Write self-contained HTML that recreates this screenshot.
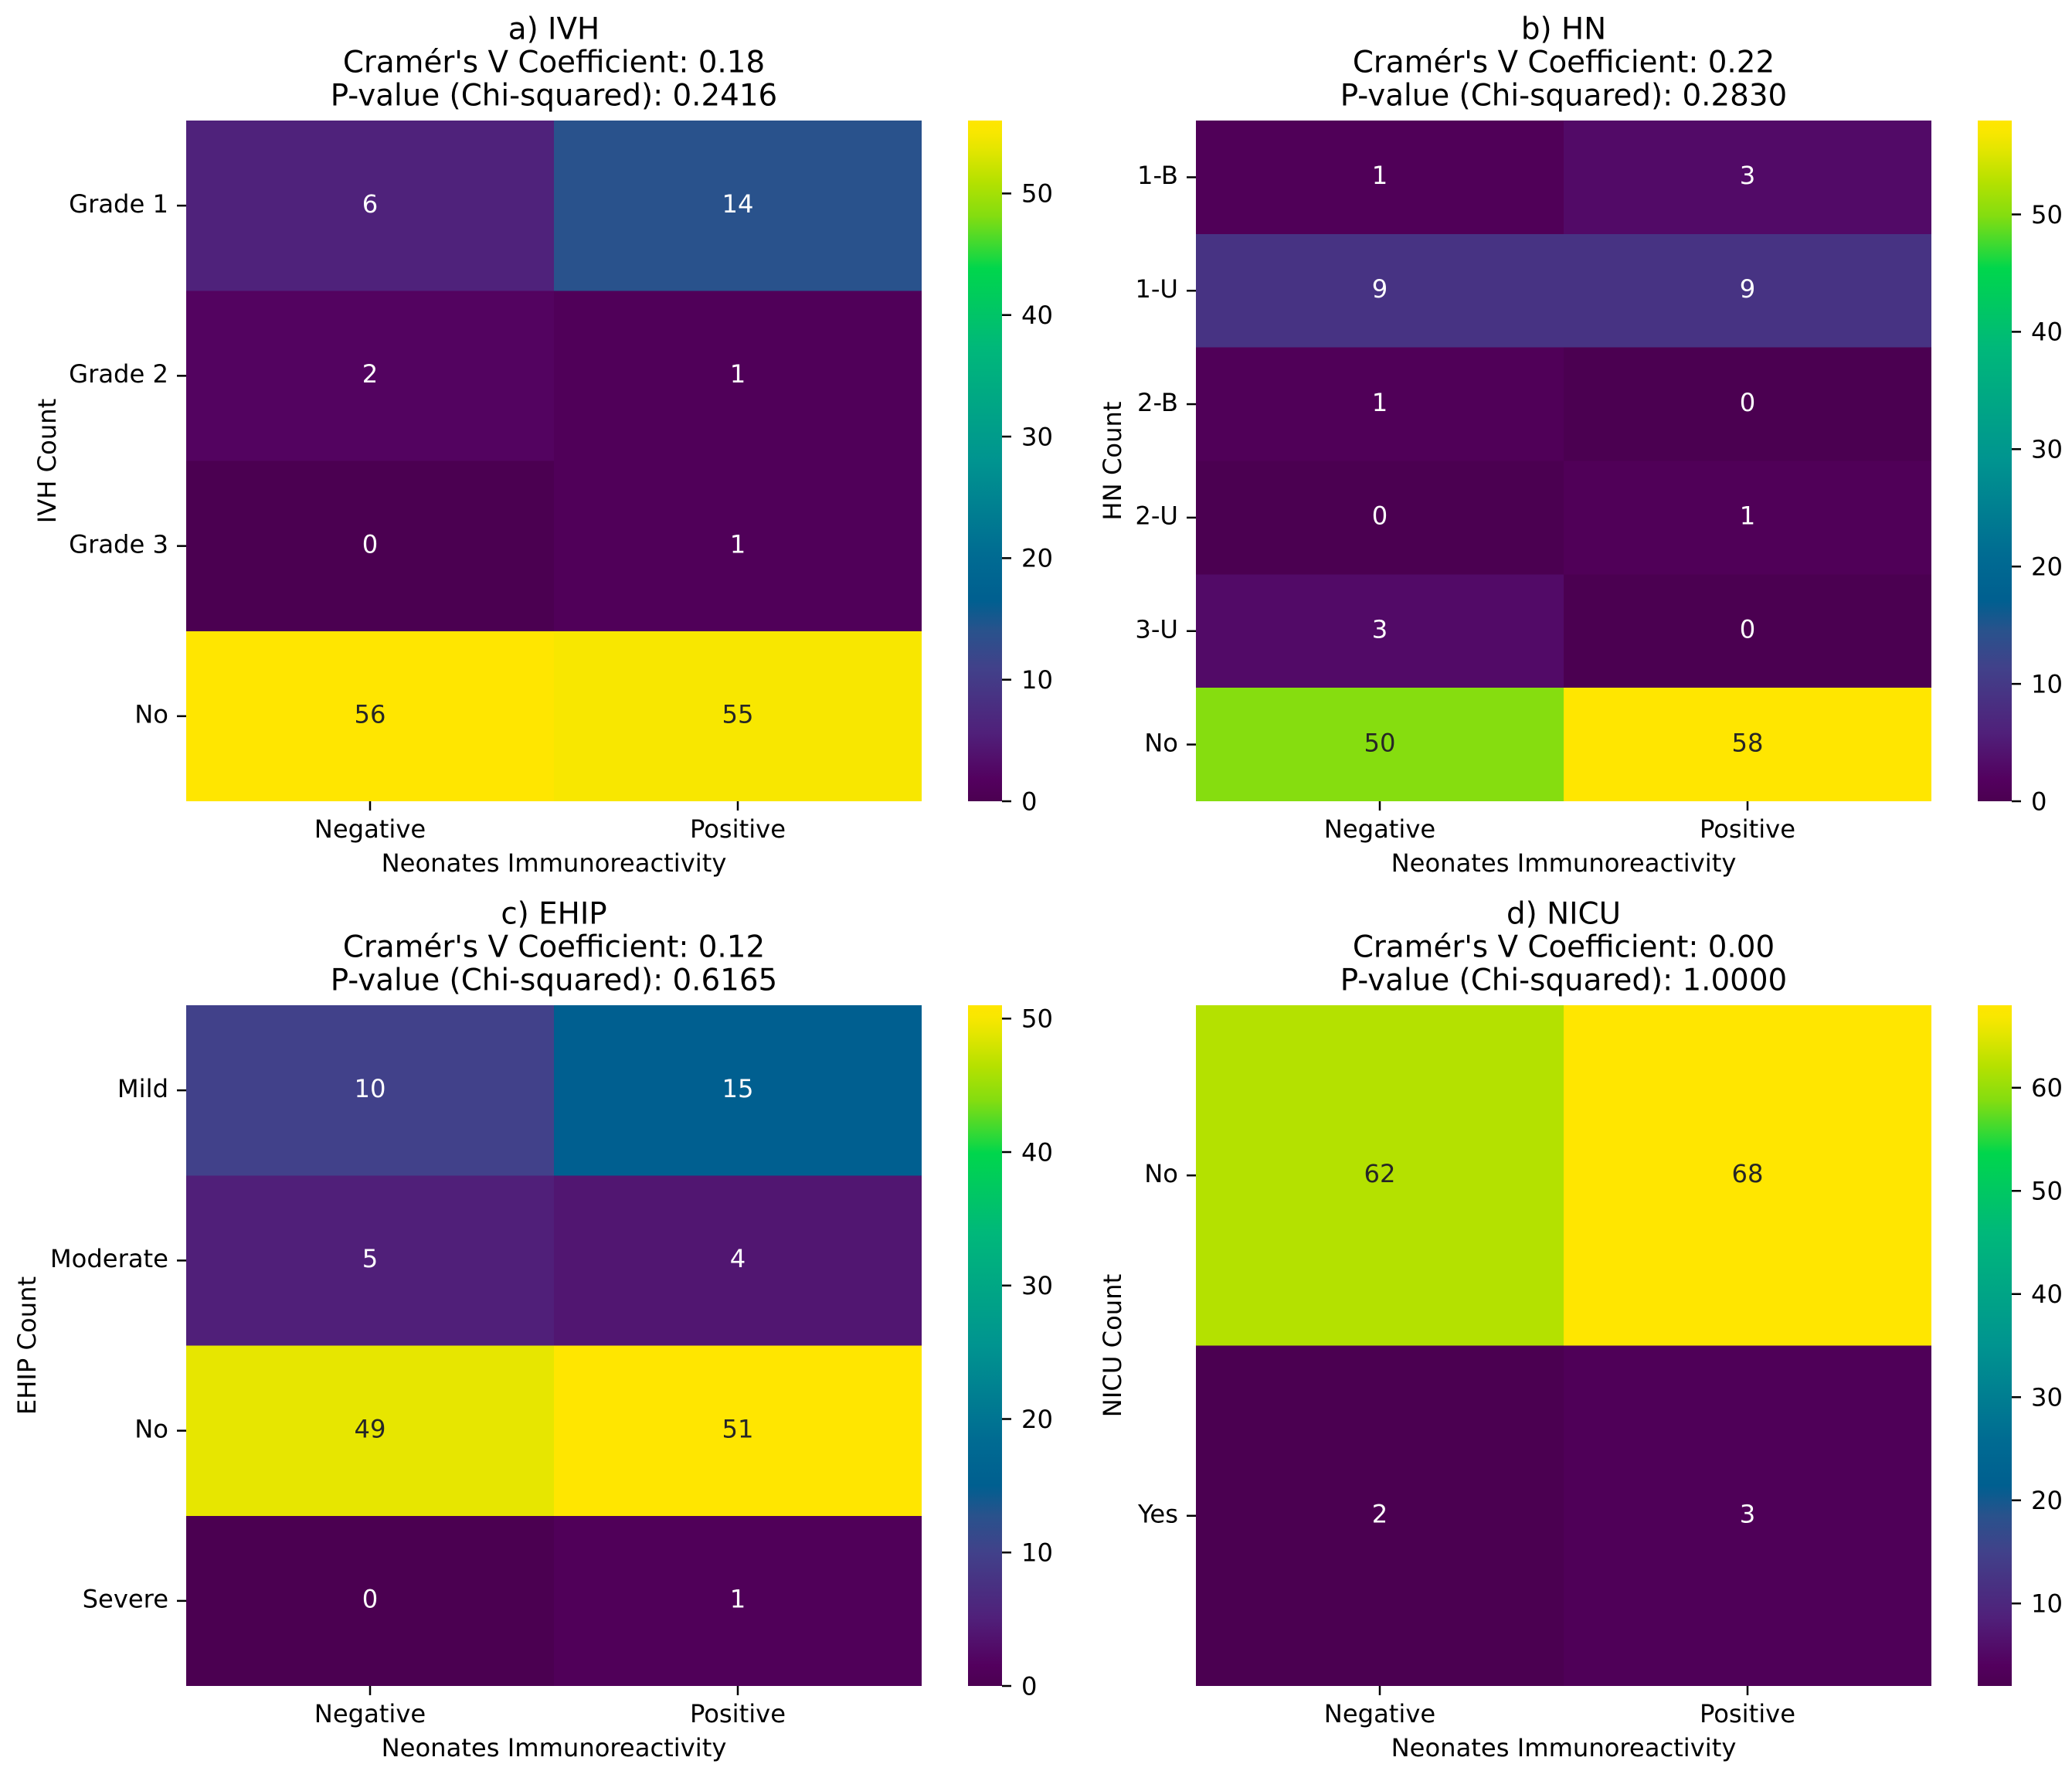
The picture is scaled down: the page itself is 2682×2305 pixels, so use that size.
<!DOCTYPE html>
<html lang="en">
<head>
<meta charset="utf-8">
<title>Neonates Immunoreactivity Heatmaps</title>
<style>
html,body{margin:0;padding:0;background:#fff;width:2682px;height:2305px;overflow:hidden}
svg{display:block}
text{font-family:"DejaVu Sans","Liberation Sans",sans-serif;fill:#000}
</style>
</head>
<body>
<svg id="chart" xmlns="http://www.w3.org/2000/svg" width="2682" height="2305" viewBox="0 0 2682 2305">
<defs id="defs"></defs>
<rect x="0" y="0" width="2682" height="2305" fill="#ffffff"></rect>
</svg>
<script>
// Shared category labels
const columnLabels = ['Negative', 'Positive'];

// Panel a) IVH
const ivhRows = ['Grade 1', 'Grade 2', 'Grade 3', 'No'];
const ivhNegative = [6, 2, 0, 56];
const ivhPositive = [14, 1, 1, 55];
const ivhTicks = [0, 10, 20, 30, 40, 50];

// Panel b) HN
const hnRows = ['1-B', '1-U', '2-B', '2-U', '3-U', 'No'];
const hnNegative = [1, 9, 1, 0, 3, 50];
const hnPositive = [3, 9, 0, 1, 0, 58];
const hnTicks = [0, 10, 20, 30, 40, 50];

// Panel c) EHIP
const ehipRows = ['Mild', 'Moderate', 'No', 'Severe'];
const ehipNegative = [10, 5, 49, 0];
const ehipPositive = [15, 4, 51, 1];
const ehipTicks = [0, 10, 20, 30, 40, 50];

// Panel d) NICU
const nicuRows = ['No', 'Yes'];
const nicuNegative = [62, 2];
const nicuPositive = [68, 3];
const nicuTicks = [10, 20, 30, 40, 50, 60];

const NS = 'http://www.w3.org/2000/svg';
const svg = document.getElementById('chart');
const defs = document.getElementById('defs');

// Layout constants
const HEAT_W = 952, HEAT_H = 881, BAR_GAP = 60, BAR_W = 44;
const TICK_LEN = 12, TICK_W = 2.5, FS_TICK = 32.2, FS_TITLE = 38.8;

// Colormap definition (fraction, colour)
const cmapStops = [
  [0, '#4b0051'], [0.03, '#53005e'], [0.1, '#50207a'], [0.196, '#41418a'],
  [0.25, '#29528c'], [0.294, '#005f90'], [0.36, '#006b92'], [0.5, '#009490'],
  [0.666, '#00b87a'], [0.783, '#00d64c'], [0.8, '#20d83e'], [0.86, '#84dd10'],
  [0.91, '#b5e100'], [0.96, '#e6e600'], [0.982, '#f8e700'], [1, '#ffe600']
];

function hexToRgb(h) {
  return [parseInt(h.slice(1, 3), 16), parseInt(h.slice(3, 5), 16), parseInt(h.slice(5, 7), 16)];
}
function cmapRgb(t) {
  const f = Math.max(0, Math.min(1, t));
  for (let i = 1; i < cmapStops.length; i++) {
    if (f <= cmapStops[i][0]) {
      const a = cmapStops[i - 1], b = cmapStops[i];
      const k = (f - a[0]) / (b[0] - a[0]);
      const ca = hexToRgb(a[1]), cb = hexToRgb(b[1]);
      return ca.map((v, j) => Math.round(v + (cb[j] - v) * k));
    }
  }
  return hexToRgb(cmapStops[cmapStops.length - 1][1]);
}
function luminance(rgb) {
  const c = rgb.map(v => {
    const s = v / 255;
    return s <= 0.03928 ? s / 12.92 : Math.pow((s + 0.055) / 1.055, 2.4);
  });
  return 0.2126 * c[0] + 0.7152 * c[1] + 0.0722 * c[2];
}
function mk(tag, attrs, parent, txt) {
  const e = document.createElementNS(NS, tag);
  for (const k in attrs) e.setAttribute(k, attrs[k]);
  if (txt !== undefined) e.textContent = txt;
  parent.appendChild(e);
  return e;
}

// Colorbar gradient built from the colormap
const grad = mk('linearGradient', {id: 'cmap-gradient', x1: 0, y1: 1, x2: 0, y2: 0}, defs);
cmapStops.forEach(s => mk('stop', {offset: s[0], 'stop-color': s[1]}, grad));

function drawPanel(slug, titleLines, rows, negative, positive, barTicks, yLabel, left, top, yLabelX) {
  const columns = [negative, positive];
  const all = negative.concat(positive);
  const vmin = Math.min.apply(null, all);
  const vmax = Math.max.apply(null, all);
  const norm = v => (v - vmin) / (vmax - vmin);
  const xCenter = c => left + (c + 0.5) * HEAT_W / columnLabels.length;
  const xEdge = c => left + c * HEAT_W / columnLabels.length;
  const yCenter = r => top + (r + 0.5) * HEAT_H / rows.length;
  const yEdge = r => top + r * HEAT_H / rows.length;
  const barLeft = left + HEAT_W + BAR_GAP;
  const barY = v => top + HEAT_H - norm(v) * HEAT_H;

  const g = mk('g', {}, svg);
  
  

  // Title
  titleLines.forEach((line, i) => {
    const t = mk('text', {x: left + HEAT_W / 2, y: top - 19.5 - (titleLines.length - 1 - i) * 43, 'text-anchor': 'middle', 'font-size': FS_TITLE}, g, line);
    
    
  });

  // Heat cells and annotations
  rows.forEach((rowName, r) => {
    columns.forEach((series, c) => {
      const v = series[r];
      const rgb = cmapRgb(norm(v));
      const cell = mk('rect', {
        x: xEdge(c), y: yEdge(r),
        width: xEdge(c + 1) - xEdge(c), height: yEdge(r + 1) - yEdge(r),
        fill: 'rgb(' + rgb.join(',') + ')', 'shape-rendering': 'crispEdges'
      }, g);
      
      
      const label = mk('text', {
        x: xCenter(c), y: yCenter(r) + 8.8, 'text-anchor': 'middle', 'font-size': FS_TICK,
        style: 'fill:' + (luminance(rgb) < 0.408 ? '#ffffff' : '#262626')
      }, g, String(v));
      
      
    });
  });

  // Y axis ticks and labels
  rows.forEach((rowName, r) => {
    const tick = mk('rect', {x: left - TICK_LEN, y: yCenter(r) - TICK_W / 2, width: TICK_LEN, height: TICK_W, fill: '#000'}, g);
    
    
    const lab = mk('text', {x: left - TICK_LEN - 11, y: yCenter(r) + 8.8, 'text-anchor': 'end', 'font-size': FS_TICK}, g, rowName);
    
    
  });

  // X axis ticks and labels
  columnLabels.forEach((name, c) => {
    const tick = mk('rect', {x: xCenter(c) - TICK_W / 2, y: top + HEAT_H, width: TICK_W, height: TICK_LEN, fill: '#000'}, g);
    
    
    const lab = mk('text', {x: xCenter(c), y: top + HEAT_H + 47, 'text-anchor': 'middle', 'font-size': FS_TICK}, g, name);
    
    
  });

  // Axis titles
  const xTitle = mk('text', {x: left + HEAT_W / 2, y: top + HEAT_H + 91, 'text-anchor': 'middle', 'font-size': FS_TICK}, g, 'Neonates Immunoreactivity');
  
  
  const yMid = top + HEAT_H / 2;
  const yTitle = mk('text', {x: yLabelX, y: yMid, 'text-anchor': 'middle', 'font-size': FS_TICK, transform: 'rotate(-90 ' + yLabelX + ' ' + yMid + ')'}, g, yLabel);
  
  

  // Colorbar
  const bar = mk('rect', {x: barLeft, y: top, width: BAR_W, height: HEAT_H, fill: 'url(#cmap-gradient)'}, g);
  
  
  barTicks.forEach(v => {
    const tick = mk('rect', {x: barLeft + BAR_W, y: barY(v) - TICK_W / 2, width: TICK_LEN, height: TICK_W, fill: '#000'}, g);
    
    
    const lab = mk('text', {x: barLeft + BAR_W + 25, y: barY(v) + 11.3, 'font-size': FS_TICK}, g, String(v));
    
    
  });
}

drawPanel('ivh', ['a) IVH', "Cramér's V Coefficient: 0.18", 'P-value (Chi-squared): 0.2416'], ivhRows, ivhNegative, ivhPositive, ivhTicks, 'IVH Count', 241, 156, 72);
drawPanel('hn', ['b) HN', "Cramér's V Coefficient: 0.22", 'P-value (Chi-squared): 0.2830'], hnRows, hnNegative, hnPositive, hnTicks, 'HN Count', 1548, 156, 1451);
drawPanel('ehip', ['c) EHIP', "Cramér's V Coefficient: 0.12", 'P-value (Chi-squared): 0.6165'], ehipRows, ehipNegative, ehipPositive, ehipTicks, 'EHIP Count', 241, 1301, 46);
drawPanel('nicu', ['d) NICU', "Cramér's V Coefficient: 0.00", 'P-value (Chi-squared): 1.0000'], nicuRows, nicuNegative, nicuPositive, nicuTicks, 'NICU Count', 1548, 1301, 1451);
</script>
</body>
</html>
